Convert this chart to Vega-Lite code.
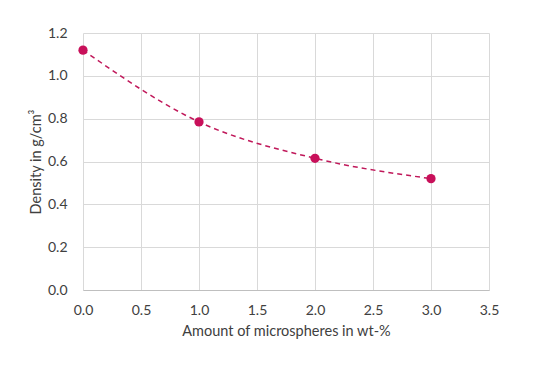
{
  "$schema": "https://vega.github.io/schema/vega-lite/v6.json",
  "autosize": "none",
  "width": 406,
  "height": 257,
  "padding": {"left": 83, "top": 33, "right": 61, "bottom": 80},
  "background": "white",
  "config": {
    "view": {"stroke": null},
    "font": "Lato",
    "axis": {
      "labelFont": "Lato",
      "titleFont": "Lato",
      "labelFontSize": 14,
      "titleFontSize": 14.5,
      "labelColor": "#404040",
      "titleColor": "#404040",
      "titleFontWeight": "normal",
      "gridColor": "#d9d9d9",
      "ticks": false
    }
  },
  "data": {
    "values": [
      {"x": 0, "y": 1.12},
      {"x": 1, "y": 0.785},
      {"x": 2, "y": 0.615},
      {"x": 3, "y": 0.52}
    ]
  },
  "layer": [
    {
      "mark": {"type": "line", "interpolate": "monotone", "strokeDash": [5, 4], "strokeWidth": 1.5, "color": "#c0185a"},
      "encoding": {
        "x": {"field": "x", "type": "quantitative"},
        "y": {"field": "y", "type": "quantitative"}
      }
    },
    {
      "mark": {"type": "circle", "size": 85, "opacity": 1, "color": "#c8105a"},
      "encoding": {
        "x": {
          "field": "x", "type": "quantitative",
          "scale": {"domain": [0, 3.5], "nice": false},
          "axis": {"title": "Amount of microspheres in wt-%", "values": [0, 0.5, 1, 1.5, 2, 2.5, 3, 3.5], "format": ".1f", "labelPadding": 13, "titlePadding": 7, "domainColor": "#bfbfbf", "labelFlush": false}
        },
        "y": {
          "field": "y", "type": "quantitative",
          "scale": {"domain": [0, 1.2], "nice": false},
          "axis": {"title": "Density in g/cm³", "values": [0, 0.2, 0.4, 0.6, 0.8, 1.0, 1.2], "format": ".1f", "labelPadding": 16, "titlePadding": 4, "domain": false}
        }
      }
    }
  ]
}
